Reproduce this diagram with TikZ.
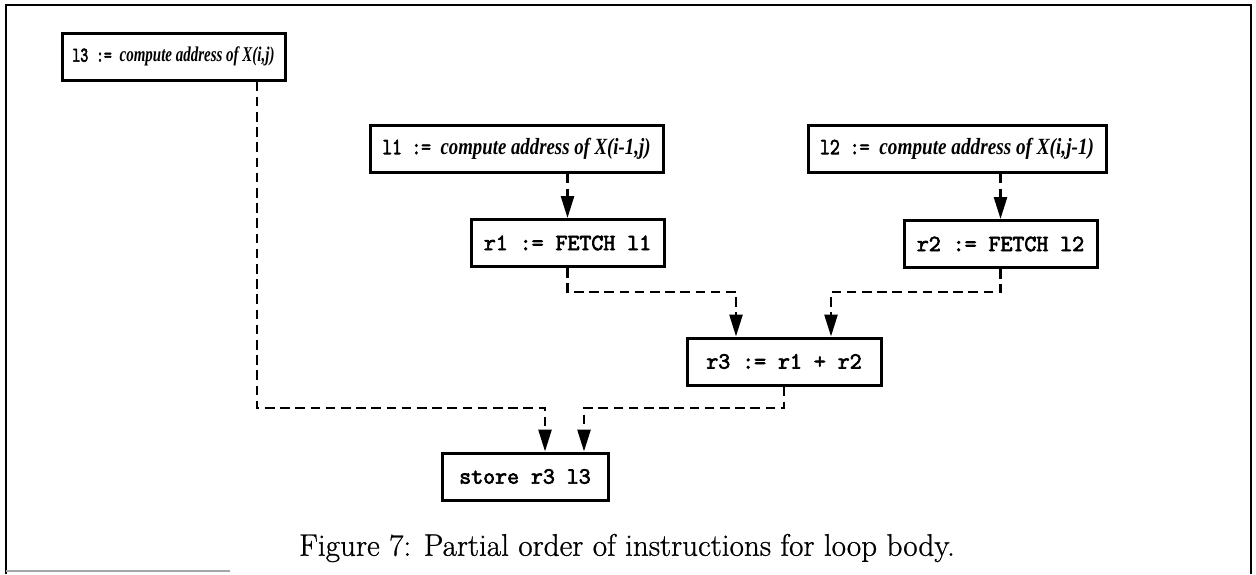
\documentclass[tikz,border=0pt]{standalone}
\usepackage{fontspec}
\usepackage{graphicx}
\usetikzlibrary{arrows.meta}
\newfontfamily\ttb[FakeBold=3]{Latin Modern Mono}
\newfontfamily\itb{Liberation Serif}
\newfontfamily\capf[FakeBold=0.8]{Latin Modern Roman}
\newcommand{\ci}[1]{{\itb\bfseries\itshape #1}}
\newcommand{\fitw}[2]{\resizebox{#1}{\height}{#2}}
\begin{document}
\begin{tikzpicture}[x=0.5pt,y=-0.5pt,
  box/.style={draw, line width=1.5pt, minimum height=23.5pt, inner sep=0pt, fill=white},
  dep/.style={line width=1.3pt, dash pattern=on 4.8pt off 2.8pt},
  arr/.style={dep, -{Triangle[length=11pt,width=6.5pt]}},
  tx/.style={font=\fontsize{11.6}{13}\selectfont\ttb},
]
\useasboundingbox (0,0) rectangle (1256,574);
% frame
\draw[line width=1.1pt] (6,574) -- (6,5) -- (1251,5) -- (1251,574);
\draw[line width=0.8pt, black!35] (6,571) -- (230,571);

% nodes
\node[box, tx, minimum width=111.5pt] (l3) at (173.5,56.5) {\fitw{101pt}{\fontsize{10.5}{12}\selectfont l3 := \ci{compute address of X(i,j)}}};
\node[box, tx, minimum width=146.5pt] (l1) at (516.5,148.5) {\fitw{134pt}{l1 := \ci{compute address of X(i-1,j)}}};
\node[box, tx, minimum width=149pt] (l2) at (957,148.5) {\fitw{137pt}{l2 := \ci{compute address of X(i,j-1)}}};
\node[box, tx, minimum width=96.5pt] (r1) at (567.5,243) {r1 := FETCH l1};
\node[box, tx, minimum width=96.5pt] (r2) at (1000.5,244) {r2 := FETCH l2};
\node[box, tx, minimum width=97pt] (r3) at (784,361.5) {r3 := r1 + r2};
\node[box, tx, minimum width=83pt] (st) at (525,476.5) {store r3 l3};

% caption
\node[font=\fontsize{15.6}{18}\selectfont\capf] (cap) at (627,548) {Figure 7: Partial order of instructions for loop body.};

% bend points
\coordinate (a1) at (257,408);
\coordinate (a2) at (545,408);
\coordinate (b1) at (736,292);
\coordinate (b2) at (831,292);
\coordinate (c1) at (584,408);

% connectors
\draw[arr] (l1.south -| r1.north) -- (r1.north);
\draw[arr] (l2.south -| r2.north) -- (r2.north);
\draw[arr] (r1.south) |- (b1) -- (r3.north -| b1);
\draw[arr] (r2.south) |- (b2) -- (r3.north -| b2);
\draw[arr] (l3.south -| a1) -- (a1) -- (a2) -- (st.north -| a2);
\draw[arr] (r3.south) |- (c1) -- (st.north -| c1);
\end{tikzpicture}
\end{document}
